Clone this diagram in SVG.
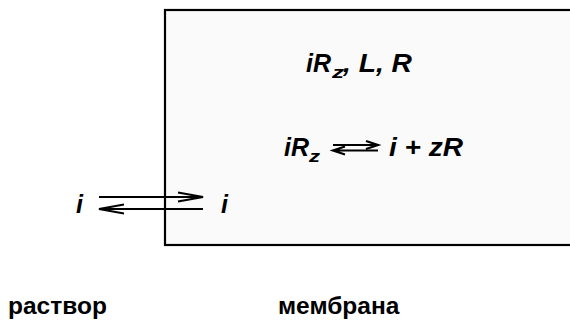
<svg xmlns="http://www.w3.org/2000/svg" width="570" height="320" viewBox="0 0 570 320">
<defs>
<style>
.m{font-family:"Liberation Sans",Arial,sans-serif;font-weight:bold;font-style:italic;font-size:25px;fill:#000}
.s{font-size:16px}
.lab{font-family:"Liberation Sans",Arial,sans-serif;font-weight:bold;font-size:24.5px;fill:#000}
.ln{stroke:#000;stroke-width:2.2;fill:none}
</style>
</defs>
<rect width="570" height="320" fill="#fff"/>
<g id="membrane">
<rect x="165" y="10" width="420" height="235" fill="#fafafa" stroke="#000" stroke-width="2.2"/>
</g>
<g id="text-species">
<text class="m" x="306" y="72" textLength="25" lengthAdjust="spacingAndGlyphs">iR</text>
<text class="m s" x="332" y="78" textLength="12" lengthAdjust="spacingAndGlyphs">z</text>
<text class="m" x="343" y="72" textLength="69" lengthAdjust="spacingAndGlyphs">, L, R</text>
</g>
<g id="text-equilibrium">
<text class="m" x="284" y="156" textLength="25" lengthAdjust="spacingAndGlyphs">iR</text>
<text class="m s" x="309" y="162" textLength="11" lengthAdjust="spacingAndGlyphs">z</text>
<text class="m" x="389" y="156" textLength="74" lengthAdjust="spacingAndGlyphs">i + zR</text>
</g>
<g id="label-i-left"><text class="m" x="76" y="213">i</text></g>
<g id="label-i-right"><text class="m" x="221" y="213">i</text></g>
<g id="connectors">
<path class="ln" d="M333 145 H378 M366 141 L378 145 L366 149"/>
<path class="ln" d="M333 150.5 H378 M345 146.5 L333 150.5 L345 154.5"/>
<path class="ln" d="M99 197 H203 M178 192.5 L203 197 L178 201.5"/>
<path class="ln" d="M99 209 H203 M124 204.5 L99 209 L124 213.5"/>
</g>
<g id="label-solution"><text class="lab" x="8" y="314">раствор</text></g>
<g id="label-membrane"><text class="lab" x="278" y="314">мембрана</text></g>
</svg>
